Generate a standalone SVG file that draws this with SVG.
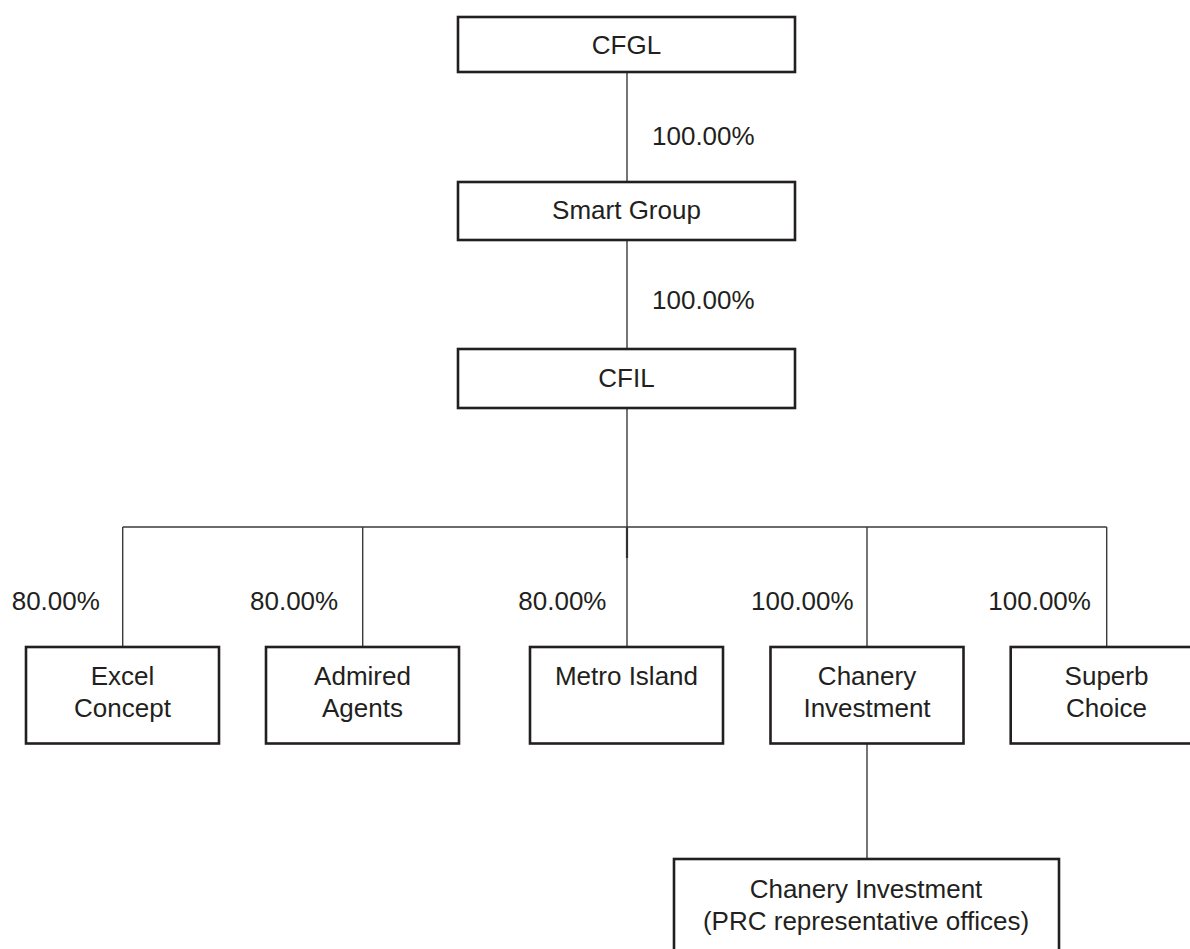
<svg xmlns="http://www.w3.org/2000/svg" width="1190" height="949" viewBox="0 0 1190 949">
<style>
.box{fill:#fff;stroke:#231f20;stroke-width:2.6}
.t{font-family:"Liberation Sans",Arial,sans-serif;font-size:26px;fill:#231f20}
.c{text-anchor:middle}
.ln{stroke:#3a3a3a;stroke-width:1.4;fill:none}
</style>
<rect width="1190" height="949" fill="#fff"/>
<g id="connectors">
<line class="ln" x1="627" y1="72" x2="627" y2="182"/>
<line class="ln" x1="627" y1="240" x2="627" y2="349"/>
<line class="ln" x1="627" y1="408" x2="627" y2="527"/>
<line x1="627" y1="527" x2="627" y2="558" stroke="#231f20" stroke-width="2.2"/>
<line class="ln" x1="122.7" y1="527" x2="1106.7" y2="527"/>
<line class="ln" x1="122.7" y1="527" x2="122.7" y2="647"/>
<line class="ln" x1="362.7" y1="527" x2="362.7" y2="647"/>
<line class="ln" x1="627" y1="527" x2="627" y2="647"/>
<line class="ln" x1="867" y1="527" x2="867" y2="647"/>
<line class="ln" x1="1106.7" y1="527" x2="1106.7" y2="647"/>
<line class="ln" x1="867" y1="743" x2="867" y2="859"/>
<text class="t" x="652" y="145">100.00%</text>
<text class="t" x="652" y="309">100.00%</text>
<text class="t" x="11.7" y="610">80.00%</text>
<text class="t" x="250" y="610">80.00%</text>
<text class="t" x="518.3" y="610">80.00%</text>
<text class="t" x="751" y="610">100.00%</text>
<text class="t" x="988.3" y="610">100.00%</text>
</g>
<g id="cfgl">
<rect class="box" x="458" y="17" width="337" height="55"/>
<text class="t c" x="626.5" y="54">CFGL</text>
</g>
<g id="smart-group">
<rect class="box" x="458" y="182" width="337" height="58"/>
<text class="t c" x="626.5" y="219">Smart Group</text>
</g>
<g id="cfil">
<rect class="box" x="458" y="349" width="337" height="59"/>
<text class="t c" x="626.5" y="387">CFIL</text>
</g>
<g id="excel-concept">
<rect class="box" x="26" y="647" width="193" height="96.5"/>
<text class="t c" x="122.5" y="685">Excel</text>
<text class="t c" x="122.5" y="717">Concept</text>
</g>
<g id="admired-agents">
<rect class="box" x="266" y="647" width="193" height="96.5"/>
<text class="t c" x="362.5" y="685">Admired</text>
<text class="t c" x="362.5" y="717">Agents</text>
</g>
<g id="metro-island">
<rect class="box" x="530" y="647" width="193" height="96.5"/>
<text class="t c" x="626.5" y="685">Metro Island</text>
</g>
<g id="chanery-investment">
<rect class="box" x="770.5" y="647" width="193" height="96.5"/>
<text class="t c" x="867" y="685">Chanery</text>
<text class="t c" x="867" y="717">Investment</text>
</g>
<g id="superb-choice">
<rect class="box" x="1010.7" y="647" width="193" height="96.5"/>
<text class="t c" x="1106.5" y="685">Superb</text>
<text class="t c" x="1106.5" y="717">Choice</text>
</g>
<g id="chanery-prc">
<rect class="box" x="674" y="859" width="385" height="100"/>
<text class="t c" x="866" y="898">Chanery Investment</text>
<text class="t c" x="866" y="930">(PRC representative offices)</text>
</g>
</svg>
